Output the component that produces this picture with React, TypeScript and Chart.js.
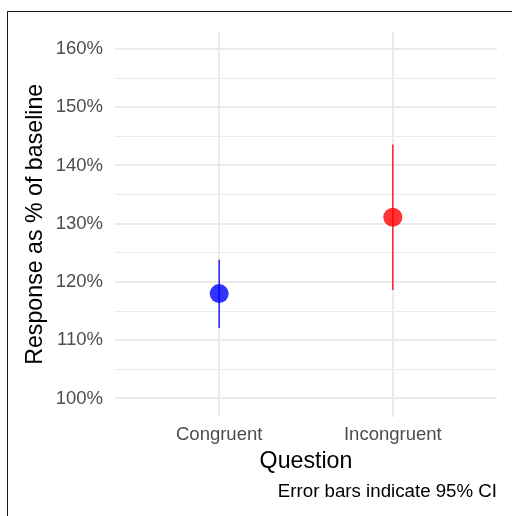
import React, { useEffect, useRef } from "react";
import { Chart, registerables } from "chart.js";

Chart.register(...registerables);

const categories = ["Congruent", "Incongruent"];
const means = [118.0, 131.1];
const lowerCI = [112.1, 118.6];
const upperCI = [123.8, 143.6];
const pointColors = ["rgba(0,0,255,0.8)", "rgba(255,0,0,0.8)"];
const yGridValues = [100, 105, 110, 115, 120, 125, 130, 135, 140, 145, 150, 155, 160];
const yMin = 96.9;
const yMax = 162.9;
const xTitle = "Question";
const yTitle = "Response as % of baseline";
const caption = "Error bars indicate 95% CI";

const FONT = "'Liberation Sans', Arial, Helvetica, sans-serif";

export default function App() {
  const canvasRef = useRef<HTMLCanvasElement | null>(null);

  useEffect(() => {
    const canvas = canvasRef.current;
    if (!canvas) return;

    const errorSets = categories.map((_, i) => ({
      type: "line" as const,
      data: [
        { x: i, y: lowerCI[i] },
        { x: i, y: upperCI[i] },
      ],
      borderColor: pointColors[i],
      borderWidth: 1.6,
      pointRadius: 0,
      pointHoverRadius: 0,
      fill: false,
      showLine: true,
      order: 2,
    }));

    const pointSet = {
      type: "scatter" as const,
      data: categories.map((_, i) => ({ x: i, y: means[i] })),
      backgroundColor: pointColors,
      borderWidth: 0,
      pointRadius: 9.5,
      pointHoverRadius: 9.5,
      order: 1,
    };

    const chart = new Chart(canvas, {
      type: "scatter",
      data: { datasets: [...errorSets, pointSet] as any },
      options: {
        animation: false,
        responsive: false,
        events: [],
        layout: { padding: { top: 32, left: 20, right: 15, bottom: 10 } },
        plugins: {
          legend: { display: false },
          tooltip: { enabled: false },
          title: {
            display: true,
            text: caption,
            position: "bottom",
            align: "end",
            color: "#000000",
            font: { family: FONT, size: 18.7, weight: "normal" },
            padding: { top: 0, bottom: 3 },
          },
        },
        scales: {
          x: {
            type: "linear",
            min: -0.6,
            max: 1.6,
            afterBuildTicks: (scale: any) => {
              scale.ticks = categories.map((_, i) => ({ value: i }));
            },
            afterFit: (scale: any) => {
              scale.height = 64;
            },
            ticks: {
              color: "#4d4d4d",
              font: { family: FONT, size: 18.5 },
              padding: 7.5,
              maxRotation: 0,
              autoSkip: false,
              callback: (v: any) => categories[Math.round(Number(v))] ?? "",
            },
            grid: { color: "#ebebeb", lineWidth: 2, drawTicks: false },
            border: { display: false },
            title: {
              display: true,
              text: xTitle,
              color: "#000000",
              font: { family: FONT, size: 23.2 },
              padding: { top: 0, bottom: 4.6 },
            },
          },
          y: {
            type: "linear",
            min: yMin,
            max: yMax,
            afterBuildTicks: (scale: any) => {
              scale.ticks = yGridValues.map((v) => ({ value: v }));
            },
            afterFit: (scale: any) => {
              scale.width = 95;
            },
            ticks: {
              color: "#4d4d4d",
              font: { family: FONT, size: 18.5 },
              padding: 12,
              autoSkip: false,
              callback: (v: any) => (Number(v) % 10 === 0 ? `${v}%` : ""),
            },
            grid: {
              color: "#ebebeb",
              lineWidth: (ctx: any) =>
                ctx.tick && ctx.tick.value % 10 === 0 ? 2 : 1,
              drawTicks: false,
            },
            border: { display: false },
            title: {
              display: true,
              text: yTitle,
              color: "#000000",
              font: { family: FONT, size: 23.2 },
              padding: { top: 1.6, bottom: 0 },
            },
          },
        },
      } as any,
    });

    return () => {
      chart.destroy();
    };
  }, []);

  return (
    <div
      style={{
        position: "fixed",
        left: 0,
        top: 0,
        width: 512,
        height: 516,
        overflow: "hidden",
        background: "#ffffff",
      }}
    >
      <canvas
        ref={canvasRef}
        width={512}
        height={516}
        style={{ position: "absolute", left: 0, top: 0, width: 512, height: 516 }}
      />
      <div
        style={{
          position: "absolute",
          left: 7,
          top: 11,
          width: 520,
          height: 520,
          borderTop: "1px solid #1a1a1a",
          borderLeft: "1px solid #1a1a1a",
          pointerEvents: "none",
        }}
      />
    </div>
  );
}
